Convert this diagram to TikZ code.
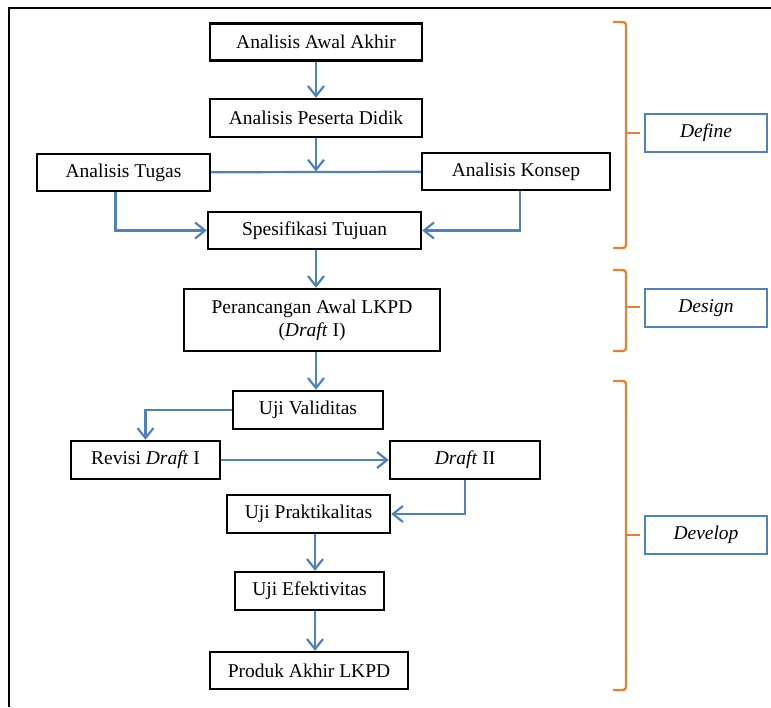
\documentclass[tikz,border=0pt]{standalone}
\usepackage{fontspec}
\setmainfont{Liberation Serif}
\usepackage{xcolor}
\usetikzlibrary{positioning,arrows.meta}

\definecolor{lineblue}{RGB}{79,129,189}
\definecolor{braceorange}{RGB}{237,125,49}

\begin{document}
\begin{tikzpicture}[
    x=1pt, y=-1pt,
    box/.style={rectangle, draw, line width=2.4pt, minimum height=37pt, inner sep=0pt, align=center, font=\fontsize{19.5}{23}\selectfont},
    stage/.style={rectangle, draw=lineblue, line width=2.2pt, minimum width=122pt, minimum height=38pt, font=\fontsize{19.5}{23}\selectfont\itshape},
    arrow/.style={-{Straight Barb[length=10pt,width=16pt]}, draw=lineblue, line width=2.2pt},
    link/.style={draw=lineblue, line width=2.2pt},
    brace/.style={draw=braceorange, line width=2.4pt, rounded corners=3pt}
]
    \useasboundingbox (0,0) rectangle (771,707);
    \draw[line width=2pt] (771,8) -- (9,8) -- (9,707);

    % define
    \node[box, minimum width=212pt] (awal) at (316,42) {Analisis Awal Akhir};
    \node[box, minimum width=212pt, minimum height=38pt] (peserta) at (316,118) {Analisis Peserta Didik};
    \node[box, minimum width=173pt] (tugas) at (123.5,172.5) {Analisis Tugas};
    \node[box, minimum width=188pt] (konsep) at (516,171.5) {Analisis Konsep};
    \node[box, minimum width=213pt] (tujuan) at (314.5,230.5) {Spesifikasi Tujuan};

    % design
    \node[box, minimum width=256pt, minimum height=62pt] (rancang) at (312,320) {Perancangan Awal LKPD\\(\textit{Draft} I)};

    % develop
    \node[box, minimum width=150pt, minimum height=38pt] (validitas) at (308,410) {Uji Validitas};
    \node[box, minimum width=149pt, minimum height=38pt] (revisi) at (145.5,460) {Revisi \textit{Draft} I};
    \node[box, minimum width=150pt, minimum height=38pt] (draftdua) at (465,460) {\textit{Draft} II};
    \node[box, minimum width=163pt, minimum height=38pt] (praktis) at (308.5,514) {Uji Praktikalitas};
    \node[box, minimum width=149pt, minimum height=38pt] (efektif) at (309.5,591) {Uji Efektivitas};
    \node[box, minimum width=198pt] (produk) at (309,670.5) {Produk Akhir LKPD};

    \node[stage] (define) at (706,133) {Define};
    \node[stage] (design) at (706,308) {Design};
    \node[stage] (develop) at (706,535) {Develop};

    \coordinate (meet) at (peserta.south |- konsep.west);

    \draw[arrow] (awal) -- (peserta);
    \draw[link] (tugas) -- (konsep);
    \draw[arrow] (peserta) -- (meet);
    \draw[arrow] ([xshift=-8pt]tugas.south) |- (tujuan.west);
    \draw[arrow] ([xshift=4pt]konsep.south) |- (tujuan.east);
    \draw[arrow] ([xshift=1.5pt]tujuan.south) -- ([xshift=1.5pt]tujuan.south |- rancang.north);
    \draw[arrow] ([xshift=4pt]rancang.south) -- ([xshift=4pt]rancang.south |- validitas.north);
    \draw[arrow] (validitas.west) -| (revisi.north);
    \draw[arrow] (revisi) -- (draftdua);
    \draw[arrow] (draftdua.south) |- (praktis.east);
    \draw[arrow] ([xshift=6.5pt]praktis.south) -- ([xshift=6.5pt]praktis.south |- efektif.north);
    \draw[arrow] ([xshift=5.5pt]efektif.south) -- ([xshift=5.5pt]efektif.south |- produk.north);

    % braces
    \draw[brace] (613,22) -| (626,248) -- (613,248);
    \draw[brace] (626,133) -- (640,133);
    \draw[brace] (613,270) -| (626,351) -- (613,351);
    \draw[brace] (626,307) -- (640,307);
    \draw[brace] (613,381) -| (626,690) -- (613,690);
    \draw[brace] (626,535) -- (640,535);
\end{tikzpicture}
\end{document}
